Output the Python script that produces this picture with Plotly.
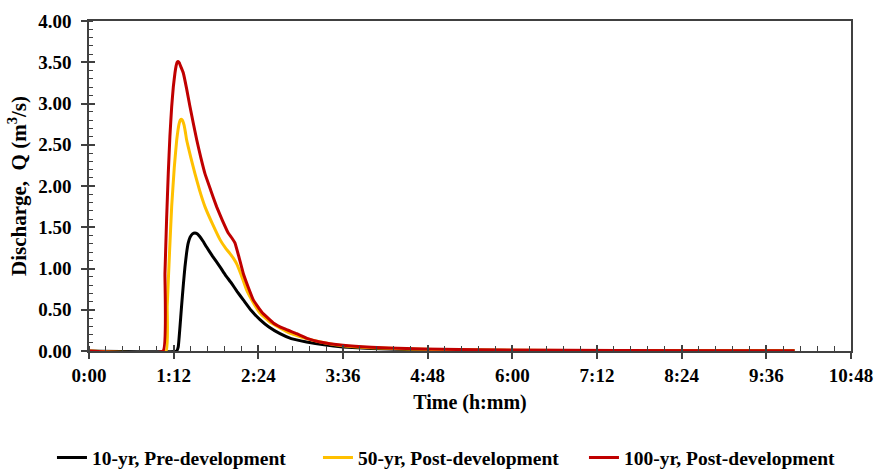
import plotly.graph_objects as go

# Time in minutes from start, discharge in m^3/s
t_pre10 = [0, 74.5, 75.9, 77.3, 78.7, 80.2, 81.6, 83.0, 84.4, 86.0, 88.0, 90.1, 92.0, 94.0, 97.0,
           100.0, 105.0, 111.4, 116.0, 121.3, 126.0, 131.2, 138.0, 145.4, 153.0, 162.4, 172.0,
           185.0, 200.0, 216.0, 240.0, 270.0, 300.0, 360.0, 450.0, 600.0]
q_pre10 = [0, 0, 0.05, 0.28, 0.54, 0.80, 1.02, 1.19, 1.31, 1.38, 1.42, 1.43, 1.42, 1.39, 1.33,
           1.26, 1.15, 1.02, 0.92, 0.82, 0.72, 0.62, 0.49, 0.38, 0.29, 0.21, 0.15,
           0.11, 0.075, 0.05, 0.03, 0.018, 0.012, 0.007, 0.004, 0.002]

t_post50 = [0, 65.5, 66.5, 68.5, 70.3, 72.5, 74.6, 75.7, 76.7, 77.7, 78.7, 79.7, 80.8, 82.0,
            83.0, 86.5, 90.1, 94.0, 98.6, 105.0, 111.4, 116.0, 119.9, 123.0, 125.5, 129.5,
            134.0, 140.0, 145.4, 153.0, 162.4, 172.0, 185.1, 200.0, 216.0, 240.0, 270.0,
            300.0, 360.0, 450.0, 600.0]
q_post50 = [0, 0, 0.54, 1.20, 1.75, 2.22, 2.56, 2.68, 2.76, 2.80, 2.81, 2.79, 2.74, 2.65,
            2.56, 2.35, 2.15, 1.95, 1.75, 1.54, 1.35, 1.25, 1.18, 1.12, 1.06, 0.92,
            0.74, 0.58, 0.46, 0.36, 0.28, 0.21, 0.15, 0.10, 0.065, 0.04, 0.025,
            0.016, 0.009, 0.005, 0.003]

t_post100 = [0, 63.0, 64.6, 66.0, 67.4, 68.8, 70.3, 71.7, 73.1, 74.0, 74.9, 75.9, 76.9, 78.0,
             80.2, 83.0, 85.9, 88.7, 91.6, 95.0, 98.6, 103.5, 108.5, 113.5, 118.4, 121.5,
             124.1, 127.5, 131.2, 135.5, 139.7, 147.0, 156.7, 166.0, 176.6, 186.0, 196.4,
             216.0, 240.0, 270.0, 300.0, 360.0, 450.0, 600.0]
q_post100 = [0, 0, 0.94, 1.60, 2.15, 2.60, 2.96, 3.20, 3.37, 3.45, 3.50, 3.51, 3.49, 3.45,
             3.37, 3.18, 2.96, 2.76, 2.56, 2.35, 2.15, 1.95, 1.75, 1.58, 1.43, 1.37,
             1.31, 1.14, 0.94, 0.77, 0.62, 0.47, 0.34, 0.27, 0.21, 0.15, 0.11,
             0.07, 0.045, 0.03, 0.02, 0.012, 0.006, 0.003]

series_names = ["10-yr, Pre-development", "50-yr, Post-development", "100-yr, Post-development"]
series_colors = ["#000000", "#FFC000", "#C00000"]

x_tickvals = [0, 72, 144, 216, 288, 360, 432, 504, 576, 648]
x_ticktext = ["0:00", "1:12", "2:24", "3:36", "4:48", "6:00", "7:12", "8:24", "9:36", "10:48"]
y_tickvals = [0, 0.5, 1.0, 1.5, 2.0, 2.5, 3.0, 3.5, 4.0]
y_ticktext = ["0.00", "0.50", "1.00", "1.50", "2.00", "2.50", "3.00", "3.50", "4.00"]

serif = "Liberation Serif, Times New Roman, serif"
axis_col = "#404040"

fig = go.Figure()
for t, q, name, col in zip([t_pre10, t_post50, t_post100],
                           [q_pre10, q_post50, q_post100],
                           series_names, series_colors):
    fig.add_trace(go.Scatter(x=t, y=q, mode="lines", name=name,
                             line=dict(color=col, width=3, shape="spline", smoothing=0.3)))

# invisible trace on overlay axes to draw the inside half of the crossing major ticks
fig.add_trace(go.Scatter(x=[0, 648], y=[0, 0], xaxis="x2", yaxis="y2", mode="lines",
                         line=dict(width=0), showlegend=False, hoverinfo="skip"))

fig.update_layout(
    width=875, height=470,
    margin=dict(l=89, r=24, t=21, b=119, autoexpand=False),
    plot_bgcolor="white", paper_bgcolor="white",
    font=dict(family=serif, color="#000000"),
    xaxis=dict(
        range=[0, 648], tickmode="array", tickvals=x_tickvals, ticktext=x_ticktext,
        showgrid=False, zeroline=False, showline=True, linecolor=axis_col, linewidth=1.5,
        mirror=True, ticks="outside", ticklen=6, tickwidth=1.5, tickcolor=axis_col,
        tickfont=dict(family=serif, size=19, color="#000000", weight="bold"),
        minor=dict(tickmode="linear", tick0=0, dtick=14.4, ticks="inside", ticklen=5,
                   tickwidth=1.2, tickcolor=axis_col, showgrid=False),
        title=dict(text="Time (h:mm)", font=dict(family=serif, size=20, weight="bold"),
                   standoff=10),
    ),
    xaxis2=dict(
        overlaying="x", anchor="y2", range=[0, 648], tickmode="array", tickvals=x_tickvals,
        showticklabels=False, ticks="inside", ticklen=6, tickwidth=1.5, tickcolor=axis_col,
        showgrid=False, zeroline=False, showline=False, side="bottom",
    ),
    yaxis=dict(
        range=[0, 4.0], tickmode="array", tickvals=y_tickvals, ticktext=y_ticktext,
        showgrid=False, zeroline=False, showline=True, linecolor=axis_col, linewidth=1.5,
        mirror=True, ticks="outside", ticklen=6, tickwidth=1.5, tickcolor=axis_col,
        ticklabelstandoff=6,
        tickfont=dict(family=serif, size=19, color="#000000", weight="bold"),
        minor=dict(tickmode="linear", tick0=0, dtick=0.1, ticks="inside", ticklen=4,
                   tickwidth=1.2, tickcolor=axis_col, showgrid=False),
        title=dict(text="Discharge,  Q (m<sup>3</sup>/s)",
                   font=dict(family=serif, size=21, weight="bold"), standoff=6),
    ),
    yaxis2=dict(
        overlaying="y", anchor="x2", range=[0, 4.0], tickmode="array", tickvals=y_tickvals,
        showticklabels=False, ticks="inside", ticklen=6, tickwidth=1.5, tickcolor=axis_col,
        showgrid=False, zeroline=False, showline=False, side="left",
    ),
    legend=dict(
        orientation="h", x=-0.0486, xanchor="left", y=-0.324, yanchor="middle",
        font=dict(family=serif, size=19.5, color="#000000", weight="bold"),
        entrywidth=221, entrywidthmode="pixels",
    ),
)

fig.write_html("out.html")
